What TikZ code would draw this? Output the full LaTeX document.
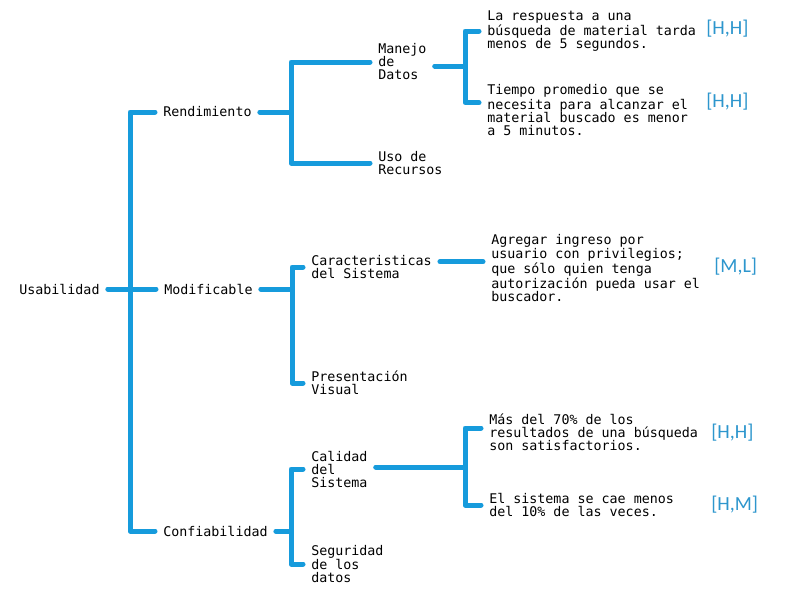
\documentclass[tikz,border=0pt]{standalone}
\usepackage{fontspec}
\setmonofont{DejaVu Sans Mono}
\newfontfamily\ratefont{Carlito}
\definecolor{treeblue}{RGB}{22,155,220}
\definecolor{rateblue}{RGB}{45,150,205}

\begin{document}
\begin{tikzpicture}[x=0.75pt, y=-0.75pt,
                    txtnode/.style={anchor=west, inner xsep=6pt, inner ysep=0pt, align=left, font=\ttfamily\fontsize{10}{9.75}\selectfont},
                    ratenode/.style={anchor=west, inner sep=0pt, text=rateblue, font=\ratefont\fontsize{15}{15}\selectfont},
                    branch/.style={draw=treeblue, line width=3.75pt, line cap=round, line join=round},]
    \useasboundingbox (0,0) rectangle (796,600);
    % nodes
    \node[txtnode]      (usab)     at (11,289)     {Usabilidad};
    \node[txtnode]      (rend)     at (155,112)    {Rendimiento};
    \node[txtnode]      (modi)     at (156,289)    {Modificable};
    \node[txtnode]      (conf)     at (155,531)    {Confiabilidad};
    \node[txtnode]      (manejo)   at (370,62)     {Manejo\\de\\Datos};
    \node[txtnode]      (uso)      at (370,163)    {Uso de\\Recursos};
    \node[txtnode]      (carac)    at (303,267)    {Caracteristicas\\del Sistema};
    \node[txtnode]      (pres)     at (303,383)    {Presentación\\Visual};
    \node[txtnode]      (calid)    at (303,469)    {Calidad\\del\\Sistema};
    \node[txtnode]      (segur)    at (303,564)    {Seguridad\\de los\\datos};
    \node[txtnode]      (resp)     at (479,31)     {La respuesta a una\\búsqueda de material tarda\\menos de 5 segundos.};
    \node[txtnode]      (tiempo)   at (479,110)    {Tiempo promedio que se\\necesita para alcanzar el\\material buscado es menor\\a 5 minutos.};
    \node[txtnode]      (agreg)    at (483,268)    {Agregar ingreso por\\usuario con privilegios;\\que sólo quien tenga\\autorización pueda usar el\\buscador.};
    \node[txtnode]      (mas)      at (481,432)    {Más del 70\% de los\\resultados de una búsqueda\\son satisfactorios.};
    \node[txtnode]      (cae)      at (481,505)    {El sistema se cae menos\\del 10\% de las veces.};
    % ratings
    \node[ratenode]     (r1)       at (706,29)     {[H,H]};
    \node[ratenode]     (r2)       at (706,102)    {[H,H]};
    \node[ratenode]     (r3)       at (714,267)    {[M,L]};
    \node[ratenode]     (r4)       at (711,433)    {[H,H]};
    \node[ratenode]     (r5)       at (711,505)    {[H,M]};
    % trunks
    \coordinate (t0) at (130,289);
    \coordinate (t1) at (291,112);
    \coordinate (t2) at (465,66);
    \coordinate (t3) at (292,289);
    \coordinate (t4) at (291,531);
    \coordinate (t5) at (465,467);
    % lines
    \draw[branch] (usab.east) -- (modi.west);
    \draw[branch] (rend.west) -| (t0) |- (conf.west);
    \draw[branch] (rend.east) -- (rend.east -| t1);
    \draw[branch] (manejo.west) -| (t1) |- (uso.west);
    \draw[branch] (manejo.east |- t2) -- (t2);
    \draw[branch] (resp.west) -| (t2) |- ([yshift=5.5pt]tiempo.west);
    \draw[branch] (modi.east) -- (t3);
    \draw[branch] (carac.west) -| (t3) |- (pres.west);
    \draw[branch] ([yshift=4pt]carac.east) -- ([yshift=4pt]carac.east -| agreg.west);
    \draw[branch] (conf.east) -- (t4);
    \draw[branch] (calid.west) -| (t4) |- (segur.west);
    \draw[branch] (calid.east |- t5) -- (t5);
    \draw[branch] ([yshift=3pt]mas.west) -| (t5) |- (cae.west);
\end{tikzpicture}
\end{document}
